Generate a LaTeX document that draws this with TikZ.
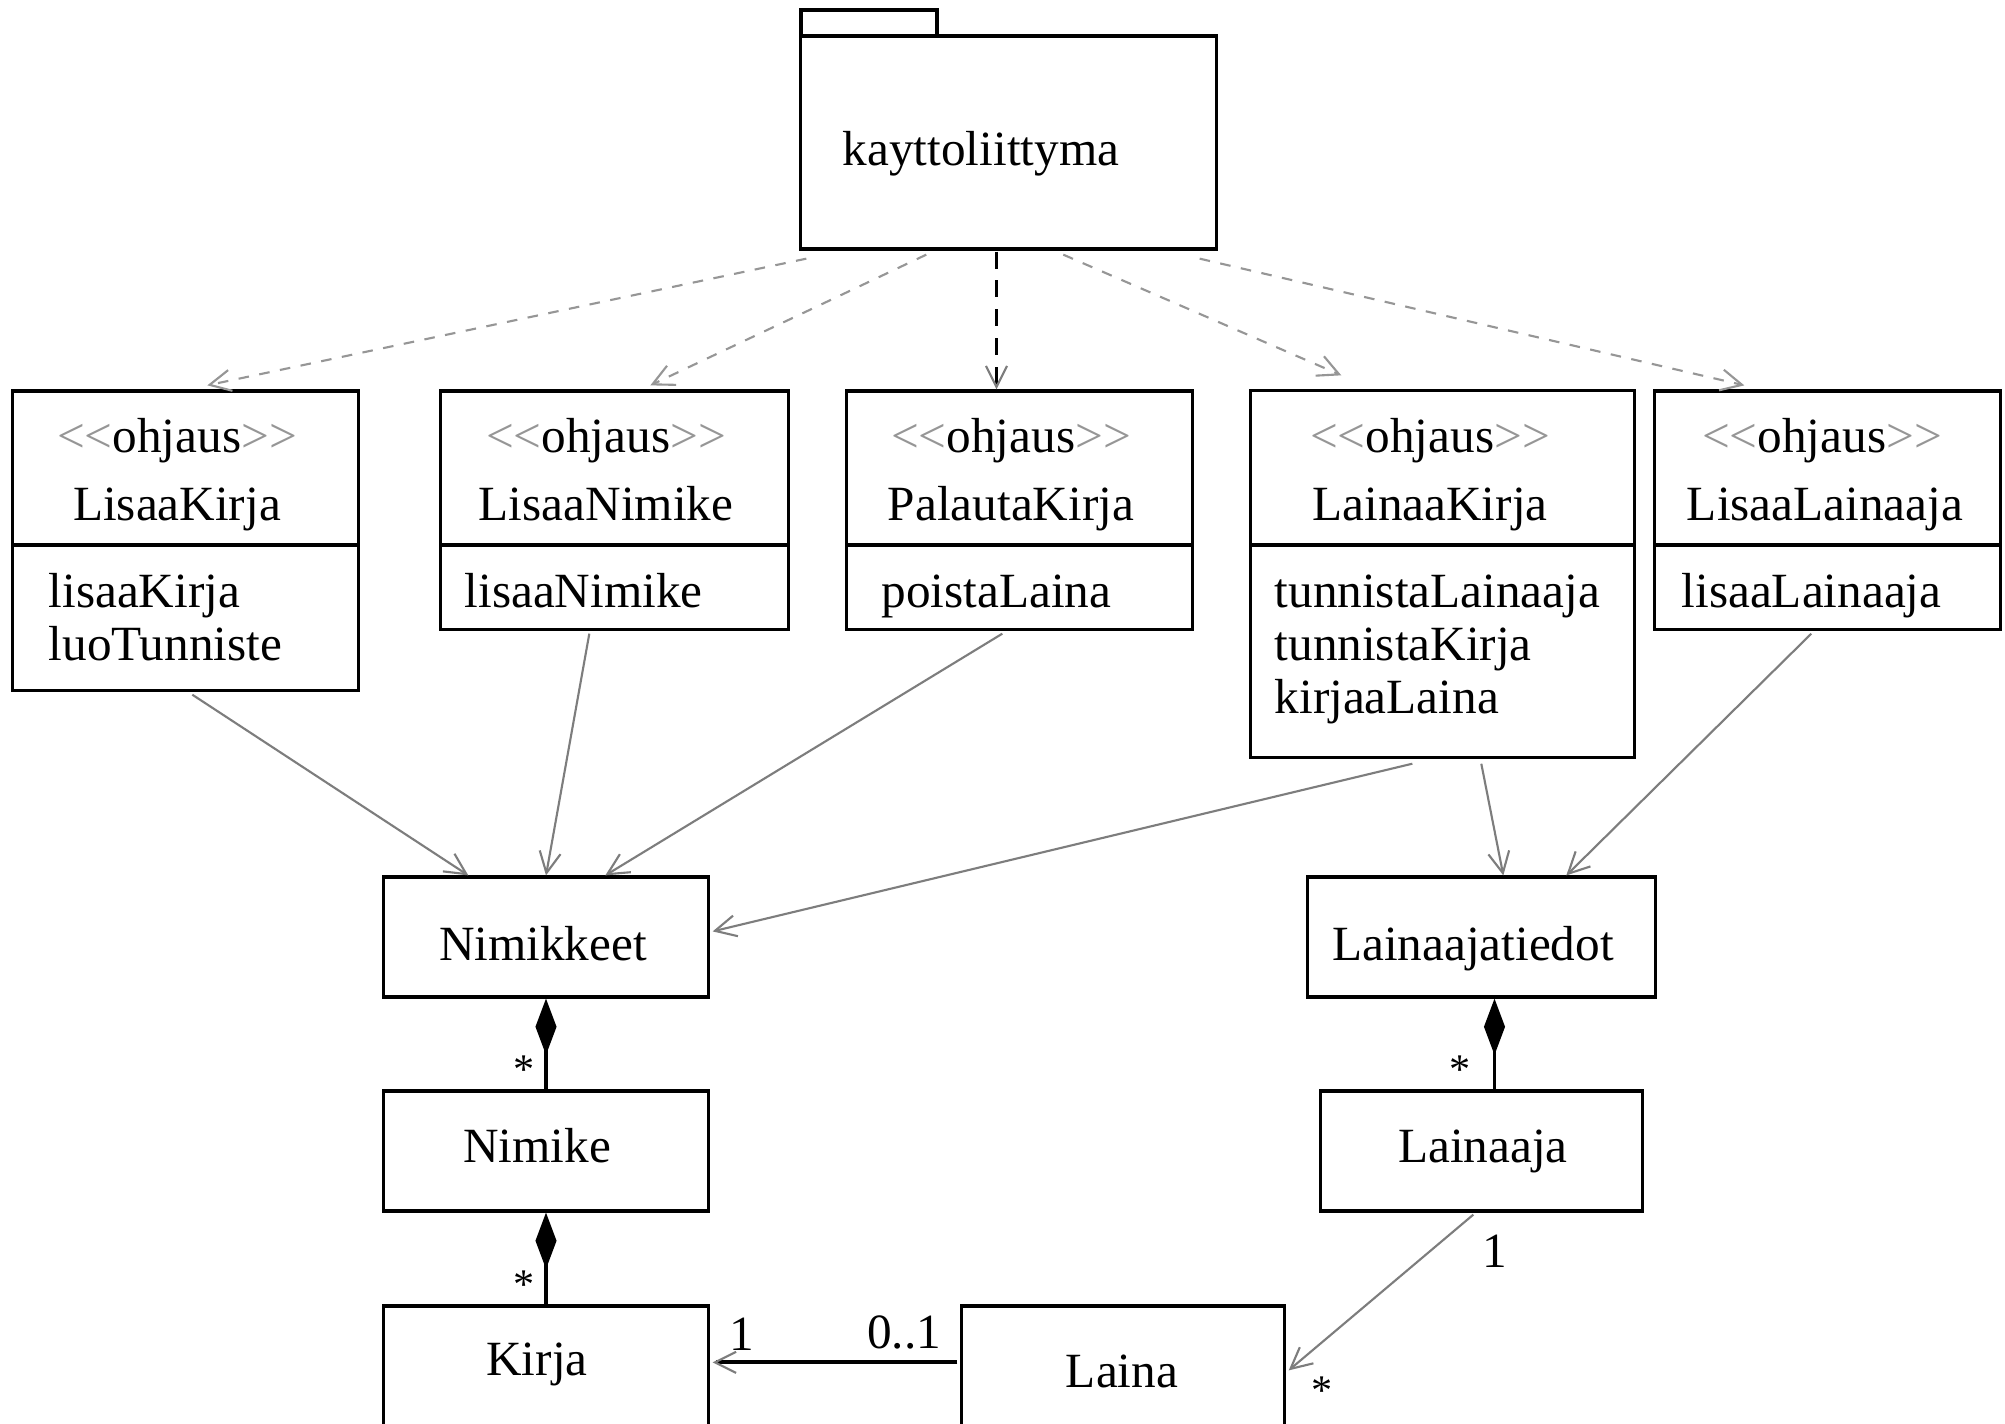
\documentclass[tikz,border=0pt]{standalone}
\usepackage{fontspec}
\setmainfont{Liberation Serif}
\usetikzlibrary{arrows.meta,calc}
\definecolor{linegray}{RGB}{125,125,125}
\definecolor{depgray}{RGB}{150,150,150}
\definecolor{chevgray}{RGB}{150,150,150}
% stereotype with lighter guillemet-like chevrons
\newcommand{\stereo}[1]{{\color{chevgray}<\kern0pt<}#1{\color{chevgray}>\kern0pt>}}
\tikzset{
  box/.style={draw, line width=0.9pt, rectangle, inner sep=0pt, fill=white},
  txt/.style={font=\fontsize{14}{16}\selectfont, inner sep=0pt, anchor=base},
  optxt/.style={txt, anchor=base west},
  mult/.style={font=\fontsize{12}{14}\selectfont, inner sep=0pt, anchor=base},
  nav/.style={draw=linegray, line width=0.6pt, -{Straight Barb[length=6pt,width=6pt]}},
  dep/.style={draw=depgray, line width=0.6pt, dash pattern=on 3pt off 3pt,
    -{Straight Barb[length=6pt,width=6pt]}},
  depmain/.style={draw=black, line width=1pt, dash pattern=on 4.8pt off 3.4pt,
    -{Straight Barb[length=6pt,width=6pt,color=linegray,line width=0.6pt]}},
  comp/.style={draw, line width=1pt, {Diamond[length=16pt,width=6pt]}-},
  assoc/.style={draw, line width=1.1pt, -{Straight Barb[length=6pt,width=6pt,color=linegray,line width=0.6pt]}},
  assocg/.style={draw=linegray, line width=0.6pt, -{Straight Barb[length=6pt,width=6pt]}}
}
\begin{document}
\begin{tikzpicture}[x=0.01cm, y=-0.01cm]
\useasboundingbox (0,0) rectangle (2005,1423);
\clip (0,0) rectangle (2005,1423);
\fill[white] (0,0) rectangle (2005,1423);

% package
\node[box, minimum width=1.36cm, minimum height=0.26cm] (pkgtab) at (869,23) {};
\node[box, minimum width=4.15cm, minimum height=2.13cm] (pkg) at (1008.5,142.5) {};
\node[txt] (pkgname) at (981,165) {kayttoliittyma};

% control classes
\node[box, minimum width=3.45cm, minimum height=2.99cm] (lk) at (185.5,540.5) {};
\node[box, minimum width=3.47cm, minimum height=2.38cm] (ln) at (614.5,510) {};
\node[box, minimum width=3.45cm, minimum height=2.38cm] (pk) at (1019.5,510) {};
\node[box, minimum width=3.83cm, minimum height=3.66cm] (lak) at (1442.5,574) {};
\node[box, minimum width=3.45cm, minimum height=2.38cm] (ll) at (1827.5,510) {};
\foreach \b in {lk,ln,pk,lak,ll}{
  \draw[line width=0.9pt] (\b.west |- 0,545) -- (\b.east |- 0,545);
}

\node[txt] (lkst) at (177,452) {\stereo{ohjaus}};
\node[txt] (lknm) at (177,520) {LisaaKirja};
\node[optxt] (lkop1) at (48,607) {lisaaKirja};
\node[optxt] (lkop2) at (48,660) {luoTunniste};

\node[txt] (lnst) at (606,452) {\stereo{ohjaus}};
\node[txt] (lnnm) at (606,520) {LisaaNimike};
\node[optxt] (lnop1) at (464,607) {lisaaNimike};

\node[txt] (pkst) at (1011,452) {\stereo{ohjaus}};
\node[txt] (pknm) at (1011,520) {PalautaKirja};
\node[optxt] (pkop1) at (881,607) {poistaLaina};

\node[txt] (lakst) at (1430,452) {\stereo{ohjaus}};
\node[txt] (laknm) at (1430,520) {LainaaKirja};
\node[optxt] (lakop1) at (1274,607) {tunnistaLainaaja};
\node[optxt] (lakop2) at (1274,660) {tunnistaKirja};
\node[optxt] (lakop3) at (1274,713) {kirjaaLaina};

\node[txt] (llst) at (1822,452) {\stereo{ohjaus}};
\node[txt] (llnm) at (1825,520) {LisaaLainaaja};
\node[optxt] (llop1) at (1681,607) {lisaaLainaaja};

% entity classes
\node[box, minimum width=3.24cm, minimum height=1.20cm] (nks) at (546,937) {};
\node[box, minimum width=3.47cm, minimum height=1.20cm] (ltd) at (1481.5,937) {};
\node[box, minimum width=3.24cm, minimum height=1.20cm] (nk) at (546,1151) {};
\node[box, minimum width=3.21cm, minimum height=1.20cm] (lj) at (1481.5,1151) {};
\node[box, minimum width=3.24cm, minimum height=1.74cm] (kr) at (546,1393) {};
\node[box, minimum width=3.22cm, minimum height=1.74cm] (la) at (1123,1393) {};

\node[txt] (nksnm) at (543,960) {Nimikkeet};
\node[txt] (ltdnm) at (1473,960) {Lainaajatiedot};
\node[txt] (nknm) at (537,1162) {Nimike};
\node[txt] (ljnm) at (1483,1162) {Lainaaja};
\node[txt] (krnm) at (537,1375) {Kirja};
\node[txt] (lanm) at (1122,1387) {Laina};

% dependencies from the user interface package
\draw[dep] ($(pkg.south west)+(7,8)$) -- ($(lk.north west)+(196,-4)$);
\draw[dep] ($(pkg.south west)+(127,4)$) -- ($(ln.north west)+(211,-4)$);
\draw[depmain] ($(pkg.south)+(-12,1)$) -- ($(pk.north)+(-23,0)$);
\draw[dep] ($(pkg.south west)+(264,4)$) -- ($(lak.north west)+(92,-14)$);
\draw[dep] ($(pkg.south east)+(-18,8)$) -- ($(ll.north west)+(91,-4)$);

% navigable associations from controllers to entities
\draw[nav] ($(lk.south west)+(181,3)$) -- ($(nks.north west)+(86,0)$);
\draw[nav] ($(ln.south west)+(150,3)$) -- (nks.north);
\draw[nav] ($(pk.south west)+(157,3)$) -- ($(nks.north west)+(223,0)$);
\draw[nav] ($(lak.south west)+(163,5)$) -- ($(nks.north east)+(3,56)$);
\draw[nav] ($(lak.south west)+(232,5)$) -- ($(ltd.north west)+(197,0)$);
\draw[nav] ($(ll.south west)+(158,3)$) -- ($(ltd.north west)+(260,0)$);

% compositions
\draw[comp] (nks.south) -- (nk.north);
\draw[comp] (nk.south) -- (kr.north);
\draw[comp] ($(ltd.south)+(13,0)$) -- ($(lj.north)+(13,0)$);

% associations among entities
\draw[assoc] ($(la.north west)+(-3,58)$) -- ($(kr.north east)+(3,58)$);
\draw[assocg] ($(lj.south west)+(154,2)$) -- ($(la.north east)+(3,66)$);

% multiplicities
\node[mult] (m1) at (524,1083) {*};
\node[mult] (m2) at (524,1298) {*};
\node[mult] (m3) at (1460,1083) {*};
\node[mult] (m4) at (1322,1404) {*};
\node[txt] (m5) at (742,1350) {1};
\node[txt] (m6) at (904,1348) {0..1};
\node[txt] (m7) at (1495,1267) {1};
\end{tikzpicture}
\end{document}
